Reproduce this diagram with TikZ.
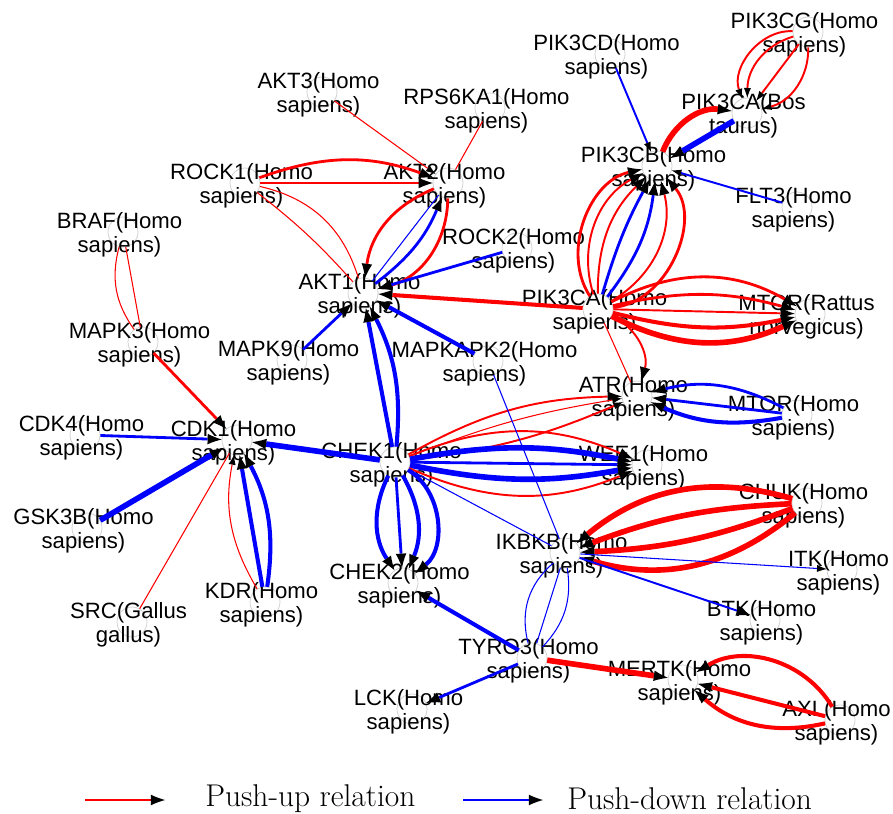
\documentclass[tikz,border=0pt]{standalone}
\usepackage{fontspec}
\newfontfamily\genefont{Liberation Sans}
\usetikzlibrary{arrows.meta}

\begin{document}
\begin{tikzpicture}[x=0.02cm, y=-0.02cm,
  gene/.style={circle, draw=black!20, line width=0.4pt, minimum size=0.6cm, inner sep=0pt},
  gname/.style={align=center, inner sep=0pt, xshift=-0.07cm, yshift=-0.06cm, font={\genefont\fontsize{12.6}{13.9}\selectfont}},
  legtext/.style={inner sep=0pt, font={\fontsize{17.9}{21}\selectfont}},
  pushup/.style={draw=red},
  pushdown/.style={draw=blue},
  hd/.style={-{Latex[color=black, length=8pt, width=6pt, line width=0pt]}},
  shd/.style={-{Latex[color=black, length=5.5pt, width=4pt, line width=0pt]}},
  w1/.style={line width=0.6pt},
  w2/.style={line width=1.1pt},
  w3/.style={line width=1.6pt},
  w4/.style={line width=2.3pt},
  w5/.style={line width=3.2pt}]
		\useasboundingbox (0,0) rectangle (893,814);

		\node[gene, label={[gname]center:{PIK3CG(Homo\\sapiens)}}] (pikcg) at (808,32) {};
		\node[gene, label={[gname]center:{PIK3CD(Homo\\sapiens)}}] (pikcd) at (610,54) {};
		\node[gene, label={[gname]center:{PIK3CA(Bos\\taurus)}}] (pikbos) at (747,113) {};
		\node[gene, label={[gname]center:{PIK3CB(Homo\\sapiens)}}] (pikcb) at (657,166) {};
		\node[gene, label={[gname]center:{FLT3(Homo\\sapiens)}}] (flt) at (797,207) {};
		\node[gene, label={[gname]center:{AKT3(Homo\\sapiens)}}] (akt3) at (322,92) {};
		\node[gene, label={[gname]center:{RPS6KA1(Homo\\sapiens)}}] (rps) at (490,108) {};
		\node[gene, label={[gname]center:{ROCK1(Homo\\sapiens)}}] (rock1) at (245,183) {};
		\node[gene, label={[gname]center:{AKT2(Homo\\sapiens)}}] (akt2) at (448,183) {};
		\node[gene, label={[gname]center:{BRAF(Homo\\sapiens)}}] (braf) at (123,232) {};
		\node[gene, label={[gname]center:{ROCK2(Homo\\sapiens)}}] (rock2) at (517,248) {};
		\node[gene, label={[gname]center:{AKT1(Homo\\sapiens)}}] (akt1) at (363,293) {};
		\node[gene, label={[gname]center:{PIK3CA(Homo\\sapiens)}}] (pikca) at (598,309) {};
		\node[gene, label={[gname]center:{MTOR(Rattus\\norvegicus)}}] (mtorr) at (810,314) {};
		\node[gene, label={[gname]center:{MAPK3(Homo\\sapiens)}}] (mapk3) at (143,342) {};
		\node[gene, label={[gname]center:{MAPK9(Homo\\sapiens)}}] (mapk9) at (292,360) {};
		\node[gene, label={[gname]center:{MAPKAPK2(Homo\\sapiens)}}] (mapkapk) at (488,361) {};
		\node[gene, label={[gname]center:{ATR(Homo\\sapiens)}}] (atr) at (637,396) {};
		\node[gene, label={[gname]center:{MTOR(Homo\\sapiens)}}] (mtorh) at (797,415) {};
		\node[gene, label={[gname]center:{CDK4(Homo\\sapiens)}}] (cdk4) at (85,435) {};
		\node[gene, label={[gname]center:{CDK1(Homo\\sapiens)}}] (cdk1) at (237,440) {};
		\node[gene, label={[gname]center:{CHEK1(Homo\\sapiens)}}] (chek1) at (395,462) {};
		\node[gene, label={[gname]center:{WEE1(Homo\\sapiens)}}] (wee) at (647,465) {};
		\node[gene, label={[gname]center:{CHUK(Homo\\sapiens)}}] (chuk) at (807,503) {};
		\node[gene, label={[gname]center:{GSK3B(Homo\\sapiens)}}] (gsk) at (87,528) {};
		\node[gene, label={[gname]center:{IKBKB(Homo\\sapiens)}}] (ikbkb) at (565,553) {};
		\node[gene, label={[gname]center:{ITK(Homo\\sapiens)}}] (itk) at (842,570) {};
		\node[gene, label={[gname]center:{CHEK2(Homo\\sapiens)}}] (chek2) at (403,583) {};
		\node[gene, label={[gname]center:{SRC(Gallus\\gallus)}}] (src) at (132,622) {};
		\node[gene, label={[gname]center:{KDR(Homo\\sapiens)}}] (kdr) at (265,602) {};
		\node[gene, label={[gname]center:{BTK(Homo\\sapiens)}}] (btk) at (765,620) {};
		\node[gene, label={[gname]center:{TYRO3(Homo\\sapiens)}}] (tyro) at (532,658) {};
		\node[gene, label={[gname]center:{MERTK(Homo\\sapiens)}}] (mertk) at (683,680) {};
		\node[gene, label={[gname]center:{LCK(Homo\\sapiens)}}] (lck) at (412,709) {};
		\node[gene, label={[gname]center:{AXL(Homo\\sapiens)}}] (axl) at (840,720) {};

		% AKT2
		\draw[pushup, w1, shd] (akt3) -- (akt2);
		\draw[pushup, w1] (rps) -- (akt2);
		\draw[pushup, w3, hd] (rock1) to[bend left=20] (akt2);
		\draw[pushup, w3, hd] (rock1) -- (akt2);

		% AKT1
		\draw[pushup, w1] (rock1) to[bend left=5] (akt1);
		\draw[pushup, w1] (rock1) to[bend left=30] (akt1);
		\draw[pushup, w3, hd] (akt2) to[bend right=30] (akt1);
		\draw[pushdown, w1] (akt1) -- (akt2);
		\draw[pushdown, w3, hd] (akt1) to[bend right=15] (akt2);
		\draw[pushup, w3, hd] (akt2) to[bend left=37] (akt1);
		\draw[pushdown, w3, hd] (rock2) -- (akt1);
		\draw[pushup, w4, hd] (pikca) -- (akt1);
		\draw[pushdown, w4, hd] (mapkapk) -- (akt1);
		\draw[pushdown, w3, hd] (mapk9) -- (akt1);
		\draw[pushdown, w4, hd] (chek1) -- (akt1);
		\draw[pushdown, w4, hd] (chek1) to[bend right=16] (akt1);

		\draw[pushup, w1] (braf) -- (mapk3);
		\draw[pushup, w1] (braf) to[bend right=25] (mapk3);
		\draw[pushup, w3, hd] (mapk3) -- (cdk1);

		% PIK3 family
		\draw[pushdown, w2, shd] (pikcd) -- (pikcb);
		\draw[pushup, w5, hd] (pikcb) to[bend left=38] (pikbos);
		\draw[pushdown, w5, hd] (pikbos) -- (pikcb);
		\draw[pushup, w2, shd] (pikcg) to[bend right=56] (pikbos);
		\draw[pushup, w2, shd] (pikcg) to[bend right=36] (pikbos);
		\draw[pushup, w2, shd] (pikcg) -- (pikbos);
		\draw[pushup, w2, shd] (pikcg) to[bend left=38] (pikbos);
		\draw[pushdown, w2, shd] (flt) -- (pikcb);

		\draw[pushup, w3, hd] (pikca) to[bend left=55] (pikcb);
		\draw[pushup, w2, hd] (pikca) to[bend left=40] (pikcb);
		\draw[pushup, w2, hd] (pikca) to[bend left=23] (pikcb);
		\draw[pushdown, w3, hd] (pikca) to[bend left=6] (pikcb);
		\draw[pushdown, w3, hd] (pikca) to[bend right=15] (pikcb);
		\draw[pushup, w2, hd] (pikca) to[bend right=37] (pikcb);
		\draw[pushup, w3, hd] (pikca) to[bend right=62] (pikcb);

		\draw[pushup, w3, hd] (pikca) to[bend left=29] (mtorr);
		\draw[pushup, w3, hd] (pikca) to[bend left=14] (mtorr);
		\draw[pushup, w2, hd] (pikca) -- (mtorr);
		\draw[pushup, w4, hd] (pikca) to[bend right=13] (mtorr);
		\draw[pushup, w5, hd] (pikca) to[bend right=26] (mtorr);

		% ATR
		\draw[pushup, w1] (pikca) -- (atr);
		\draw[pushup, w2, hd] (pikca) to[bend left=40] (atr);
		\draw[pushdown, w3, hd] (mtorh) to[bend right=21] (atr);
		\draw[pushdown, w3, hd] (mtorh) -- (atr);
		\draw[pushdown, w4, hd] (mtorh) to[bend left=17] (atr);
		\draw[pushup, w2, hd] (chek1) to[bend left=14] (atr);
		\draw[pushup, w1, shd] (chek1) to[bend left=6] (atr);
		\draw[pushup, w2, shd] (chek1) to[bend right=8] (atr);

		% WEE1
		\draw[pushup, w2, hd] (chek1) to[bend left=23] (wee);
		\draw[pushdown, w5, hd] (chek1) to[bend left=11] (wee);
		\draw[pushdown, w3, hd] (chek1) -- (wee);
		\draw[pushdown, w5, hd] (chek1) to[bend right=11] (wee);
		\draw[pushup, w2, hd] (chek1) to[bend right=23] (wee);

		% CDK1
		\draw[pushdown, w5, hd] (chek1) -- (cdk1);
		\draw[pushdown, w3, hd] (cdk4) -- (cdk1);
		\draw[pushdown, w5, hd] (gsk) -- (cdk1);
		\draw[pushup, w1] (src) -- (cdk1);
		\draw[pushup, w1, shd] (kdr) to[bend left=21] (cdk1);
		\draw[pushdown, w4, hd] (kdr) -- (cdk1);
		\draw[pushdown, w4, hd] (kdr) to[bend right=18] (cdk1);

		% CHEK2
		\draw[pushdown, w4, hd] (chek1) to[bend right=30] (chek2);
		\draw[pushdown, w3, hd] (chek1) -- (chek2);
		\draw[pushdown, w4, hd] (chek1) to[bend left=26] (chek2);
		\draw[pushdown, w4, hd] (chek1) to[bend left=55] (chek2);

		% IKBKB
		\draw[pushdown, w1] (chek1) -- (ikbkb);
		\draw[pushdown, w1] (mapkapk) -- (ikbkb);
		\draw[pushup, w5, hd] (chuk) to[bend right=28] (ikbkb);
		\draw[pushup, w5, hd] (chuk) to[bend right=9] (ikbkb);
		\draw[pushup, w5, hd] (chuk) to[bend left=9] (ikbkb);
		\draw[pushup, w5, hd] (chuk) to[bend left=28] (ikbkb);
		\draw[pushdown, w1, shd] (ikbkb) -- (itk);
		\draw[pushdown, w2, hd] (ikbkb) -- (btk);
		\draw[pushdown, w1] (ikbkb) to[bend right=32] (tyro);
		\draw[pushdown, w1] (ikbkb) -- (tyro);
		\draw[pushdown, w1] (ikbkb) to[bend left=26] (tyro);

		% TYRO3 and MERTK
		\draw[pushdown, w4, hd] (tyro) -- (chek2);
		\draw[pushdown, w3, hd] (tyro) -- (lck);
		\draw[pushup, w5, hd] (tyro) -- (mertk);
		\draw[pushup, w4, hd] (axl) to[bend right=45] (mertk);
		\draw[pushup, w4, hd] (axl) -- (mertk);
		\draw[pushup, w4, hd] (axl) to[bend left=27] (mertk);

		% legend
		\coordinate (upa) at (85,800);
		\coordinate (upb) at (165,800);
		\draw[pushup, w2, hd] (upa) -- (upb);
		\node[legtext, anchor=west] (uptext) at (205,799) {Push-up relation};
		\coordinate (downa) at (463,800);
		\coordinate (downb) at (543,800);
		\draw[pushdown, w2, hd] (downa) -- (downb);
		\node[legtext, anchor=west] (downtext) at (567,799) {Push-down relation};
	\end{tikzpicture}
\end{document}
